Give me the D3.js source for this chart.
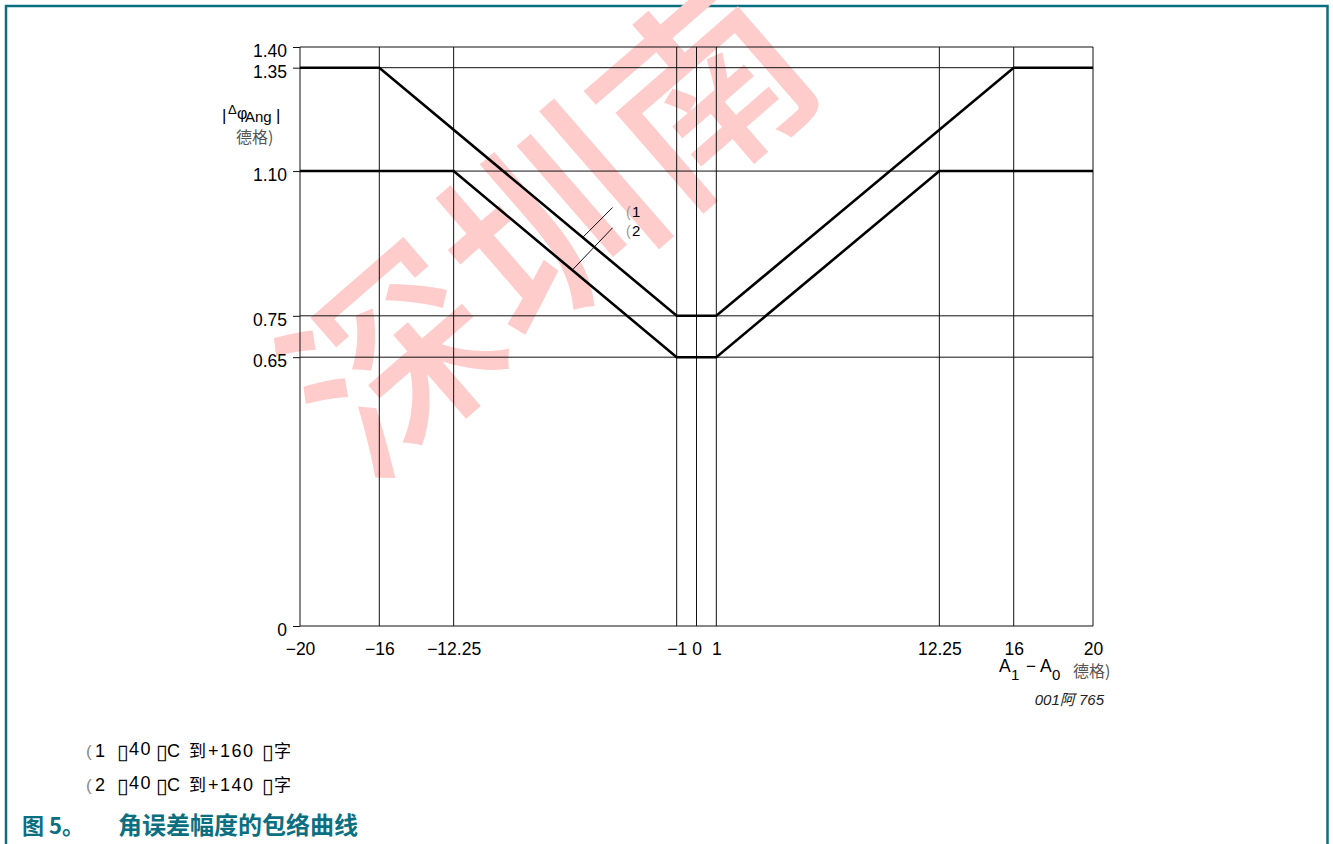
<!DOCTYPE html>
<html>
<head>
<meta charset="utf-8">
<script src="https://cdn.jsdelivr.net/npm/d3@7"></script>
<style>
  body { margin: 0; background: #fff; }
  svg { display: block; }
  text { font-family: "Liberation Sans", Arial, "Noto Sans CJK SC", sans-serif; }
</style>
</head>
<body>
<div class="chart"></div>
<script>
/** data */
let curve1_x = [-20, -16, -1, 1, 16, 20];
let curve1_y = [1.35, 1.35, 0.75, 0.75, 1.35, 1.35];
let curve2_x = [-20, -12.25, -1, 1, 12.25, 20];
let curve2_y = [1.10, 1.10, 0.65, 0.65, 1.10, 1.10];

let x_ticks = [-20, -16, -12.25, -1, 0, 1, 12.25, 16, 20];
let x_labels = ['\u221220', '\u221216', '\u221212.25', '\u22121', '0', '1', '12.25', '16', '20'];
let y_ticks = [0, 0.65, 0.75, 1.10, 1.35, 1.40];
let y_labels = ['0', '0.65', '0.75', '1.10', '1.35', '1.40'];

/** leader lines for the (1) (2) marks: [x0, y0, x1, y1] in data units */
let leader_names = ['1', '2'];
let leader_lines = [[-4.23, 1.012, -5.73, 0.940], [-4.23, 0.963, -6.24, 0.862]];

let teal = '#0b6f82';
let width = 1333, height = 844;

let svg = d3.select('.chart').append('svg')
    .attr('width', width)
    .attr('height', height);

/** page frame */
svg.append('path')
    .attr('d', 'M6,860 V6 H1327.5 V860')
    .attr('fill', 'none')
    .attr('stroke', teal)
    .attr('stroke-width', 2.5);

/** scales */
let xScale = d3.scaleLinear().domain([-20, 20]).range([300, 1093]);
let yScale = d3.scaleLinear().domain([0, 1.4]).range([626, 47]);

/** watermark (behind everything) */
svg.append('text')
    .attr('transform', 'translate(540,215) rotate(-41)')
    .attr('text-anchor', 'middle')
    .attr('dominant-baseline', 'central')
    .style('font-family', '"Noto Sans CJK SC"')
    .style('font-weight', 500)
    .style('font-size', '205px')
    .attr('fill', '#ffcccc')
    .text('深圳南');

/** grid */
let grid = svg.append('g');
grid.selectAll('.vgrid')
    .data(x_ticks)
    .enter()
        .append('line')
        .attr('x1', d => xScale(d)).attr('x2', d => xScale(d))
        .attr('y1', yScale(0)).attr('y2', yScale(1.4))
        .attr('stroke', '#111')
        .attr('stroke-width', 1);
grid.selectAll('.hgrid')
    .data(y_ticks)
    .enter()
        .append('line')
        .attr('x1', xScale(-20)).attr('x2', xScale(20))
        .attr('y1', d => yScale(d)).attr('y2', d => yScale(d))
        .attr('stroke', '#111')
        .attr('stroke-width', 1);

/** axes */
let yAxis = d3.axisLeft(yScale)
    .tickValues(y_ticks)
    .tickSize(7)
    .tickPadding(6)
    .tickFormat((d, i) => y_labels[i]);
let gy = svg.append('g')
    .attr('transform', `translate(${xScale(-20)},0)`)
    .call(yAxis);
gy.select('.domain').remove();
gy.selectAll('line').attr('stroke', '#111');
gy.selectAll('text')
    .attr('dy', '0.55em')
    .style('font-size', '17.5px')
    .attr('fill', '#000');

let xAxis = d3.axisBottom(xScale)
    .tickValues(x_ticks)
    .tickSize(0)
    .tickPadding(17)
    .tickFormat((d, i) => x_labels[i]);
let gx = svg.append('g')
    .attr('transform', `translate(0,${yScale(0)})`)
    .call(xAxis);
gx.select('.domain').remove();
gx.selectAll('text')
    .style('font-size', '17.5px')
    .attr('fill', '#000');

/** curves */
let lineGen = d3.line()
    .x(d => xScale(d[0]))
    .y(d => yScale(d[1]));

let curves = [d3.zip(curve1_x, curve1_y), d3.zip(curve2_x, curve2_y)];
svg.selectAll('.curve')
    .data(curves)
    .enter()
        .append('path')
        .attr('class', 'curve')
        .attr('d', lineGen)
        .attr('fill', 'none')
        .attr('stroke', '#000')
        .attr('stroke-width', 2.6);

/** leaders + labels */
svg.selectAll('.leader')
    .data(leader_lines)
    .enter()
        .append('line')
        .attr('x1', d => xScale(d[0])).attr('y1', d => yScale(d[1]))
        .attr('x2', d => xScale(d[2])).attr('y2', d => yScale(d[3]))
        .attr('stroke', '#111')
        .attr('stroke-width', 1);

svg.selectAll('.leaderParen')
    .data(leader_names)
    .enter()
        .append('text')
        .attr('x', 626)
        .attr('y', (d, i) => 217 + i * 19)
        .style('font-size', '14px')
        .attr('fill', '#999')
        .text('(');
svg.selectAll('.leaderText')
    .data(leader_names)
    .enter()
        .append('text')
        .attr('x', 632)
        .attr('y', (d, i) => 217 + i * 19)
        .style('font-size', '15px')
        .attr('fill', '#000')
        .text(d => d);

/** y axis title */
let yTitle = svg.append('g');
yTitle.append('text').attr('x', 222).attr('y', 121).style('font-size', '17px').text('|');
yTitle.append('text').attr('x', 228).attr('y', 114).style('font-size', '13px').text('Δ');
yTitle.append('text').attr('x', 237).attr('y', 119).style('font-size', '16px').text('φ');
yTitle.append('text').attr('x', 245).attr('y', 122).style('font-size', '15px').text('Ang');
yTitle.append('text').attr('x', 276).attr('y', 121).style('font-size', '17px').text('|');
yTitle.append('text').attr('x', 236).attr('y', 143)
    .style('font-family', '"Noto Sans CJK SC"')
    .style('font-size', '16px')
    .attr('fill', '#555')
    .text('德格)');

/** x axis title */
let xTitle = svg.append('g');
xTitle.append('text').attr('x', 999).attr('y', 672).style('font-size', '17.5px').text('A');
xTitle.append('text').attr('x', 1011).attr('y', 680).style('font-size', '15px').text('1');
xTitle.append('text').attr('x', 1026).attr('y', 672).style('font-size', '17px').text('\u2212');
xTitle.append('text').attr('x', 1040).attr('y', 672).style('font-size', '17.5px').text('A');
xTitle.append('text').attr('x', 1052).attr('y', 680).style('font-size', '15px').text('0');
xTitle.append('text').attr('x', 1073).attr('y', 677)
    .style('font-family', '"Noto Sans CJK SC"')
    .style('font-size', '16px')
    .attr('fill', '#555')
    .text('德格)');

/** figure code */
svg.append('text')
    .attr('x', 1104).attr('y', 705)
    .attr('text-anchor', 'end')
    .style('font-size', '15px')
    .style('font-style', 'italic')
    .attr('fill', '#222')
    .text('001阿 765');

/** footnotes */
let notes = [['1', '+160'], ['2', '+140']];
notes.forEach(function (n, i) {
    let y = 757 + i * 34;
    let t = svg.append('g').style('font-size', '18px');
    t.append('text').attr('x', 86).attr('y', y).attr('fill', '#888').style('font-size', '17px').text('(');
    t.append('text').attr('x', 95).attr('y', y).text(n[0]);
    t.append('text').attr('x', 117).attr('y', y + 2).style('font-family', '"DejaVu Sans"').style('font-size', '21px').text('▯');
    t.append('text').attr('x', 129).attr('y', y - 2).style('letter-spacing', '1.5px').text('40');
    t.append('text').attr('x', 156).attr('y', y + 2).style('font-family', '"DejaVu Sans"').style('font-size', '21px').text('▯');
    t.append('text').attr('x', 167).attr('y', y).text('C');
    t.append('text').attr('x', 189).attr('y', y).style('font-family', '"Noto Sans CJK SC"').style('font-size', '17px').text('到');
    t.append('text').attr('x', 208).attr('y', y).style('letter-spacing', '1.5px').text(n[1]);
    t.append('text').attr('x', 262).attr('y', y + 2).style('font-family', '"DejaVu Sans"').style('font-size', '21px').text('▯');
    t.append('text').attr('x', 274).attr('y', y).style('font-family', '"Noto Sans CJK SC"').style('font-size', '17px').text('字');
});

/** caption */
svg.append('text')
    .attr('x', 22).attr('y', 834)
    .attr('fill', teal)
    .style('font-family', '"Noto Sans CJK SC"')
    .style('font-weight', 'bold')
    .style('font-size', '22px')
    .text('图 5。');
svg.append('text')
    .attr('x', 118).attr('y', 834)
    .attr('fill', teal)
    .style('font-family', '"Noto Sans CJK SC"')
    .style('font-weight', 'bold')
    .style('font-size', '24px')
    .text('角误差幅度的包络曲线');
</script>
</body>
</html>
